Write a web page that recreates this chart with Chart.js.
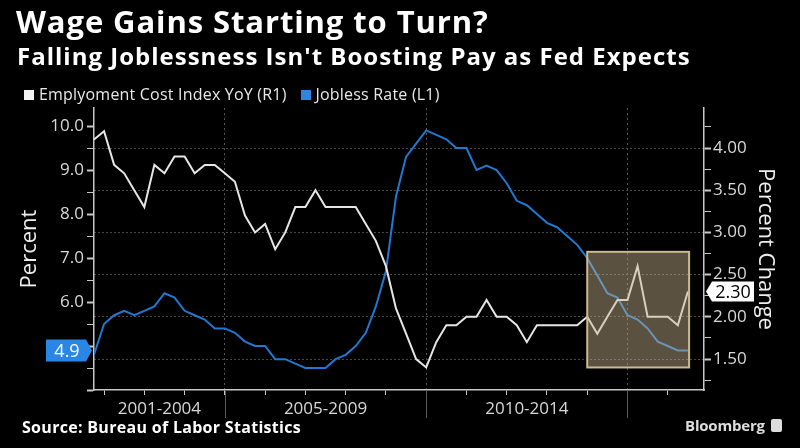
<!DOCTYPE html>
<html>
<head>
<meta charset="utf-8">
<script src="https://cdn.jsdelivr.net/npm/chart.js@4.4.1/dist/chart.umd.min.js"></script>
<style>
html,body{margin:0;padding:0;background:#000;}
#wrap{position:relative;width:800px;height:448px;background:#000;overflow:hidden;}
#c{position:absolute;left:0;top:0;}
.t{position:absolute;color:#fff;white-space:nowrap;}
#title{left:16px;top:0px;font:bold 31px "Open Sans",sans-serif;letter-spacing:0.9px;}
#subtitle{left:17px;top:39px;font:bold 24px "Open Sans",sans-serif;letter-spacing:1px;}
#legend{left:24px;top:83px;font:16px "Open Sans",sans-serif;color:#e8e8e8;letter-spacing:0.2px;}
#legend span.sw{display:inline-block;width:10px;height:10px;margin-right:5px;vertical-align:0px;}
#legend span.item{margin-right:14px;}
#source{left:22px;top:416px;font:bold 16px "Open Sans",sans-serif;letter-spacing:0.3px;}
#bbg{left:685px;top:415px;font:bold 15px "Open Sans",sans-serif;color:#ddd;letter-spacing:-0.2px;}
#bbg .ic{display:inline-block;width:11px;height:13px;background:#ddd;border-radius:2px;margin-left:6px;vertical-align:-1px;}
</style>
</head>
<body>
<div id="wrap">
<canvas id="c" width="800" height="448"></canvas>
<div class="t" id="title">Wage Gains Starting to Turn?</div>
<div class="t" id="subtitle">Falling Joblessness Isn't Boosting Pay as Fed Expects</div>
<div class="t" id="legend"><span class="item"><span class="sw" style="background:#f2f2f2"></span>Emplyoment Cost Index YoY (R1)</span><span class="item"><span class="sw" style="background:#2a86e4"></span>Jobless Rate (L1)</span></div>
<div class="t" id="source">Source: Bureau of Labor Statistics</div>
<div class="t" id="bbg">Bloomberg<span class="ic"></span></div>
</div>
<script>
// ---- data ----
const quarters = [
  "2001Q3","2001Q4",
  "2002Q1","2002Q2","2002Q3","2002Q4",
  "2003Q1","2003Q2","2003Q3","2003Q4",
  "2004Q1","2004Q2","2004Q3","2004Q4",
  "2005Q1","2005Q2","2005Q3","2005Q4",
  "2006Q1","2006Q2","2006Q3","2006Q4",
  "2007Q1","2007Q2","2007Q3","2007Q4",
  "2008Q1","2008Q2","2008Q3","2008Q4",
  "2009Q1","2009Q2","2009Q3","2009Q4",
  "2010Q1","2010Q2","2010Q3","2010Q4",
  "2011Q1","2011Q2","2011Q3","2011Q4",
  "2012Q1","2012Q2","2012Q3","2012Q4",
  "2013Q1","2013Q2","2013Q3","2013Q4",
  "2014Q1","2014Q2","2014Q3","2014Q4",
  "2015Q1","2015Q2","2015Q3","2015Q4",
  "2016Q1","2016Q2"
];
const joblessRate = [
  4.8,5.5,5.7,5.8,5.7,5.8,5.9,6.2,6.1,5.8,
  5.7,5.6,5.4,5.4,5.3,5.1,5.0,5.0,4.7,4.7,
  4.6,4.5,4.5,4.5,4.7,4.8,5.0,5.3,5.9,6.7,
  8.4,9.3,9.6,9.9,9.8,9.7,9.5,9.5,9.0,9.1,
  9.0,8.7,8.3,8.2,8.0,7.8,7.7,7.5,7.3,7.0,
  6.6,6.2,6.1,5.7,5.6,5.4,5.1,5.0,4.9,4.9
];
const eciYoY = [
  4.1,4.2,3.8,3.7,3.5,3.3,3.8,3.7,3.9,3.9,
  3.7,3.8,3.8,3.7,3.6,3.2,3.0,3.1,2.8,3.0,
  3.3,3.3,3.5,3.3,3.3,3.3,3.3,3.1,2.9,2.6,
  2.1,1.8,1.5,1.4,1.7,1.9,1.9,2.0,2.0,2.2,
  2.0,2.0,1.9,1.7,1.9,1.9,1.9,1.9,1.9,2.0,
  1.8,2.0,2.2,2.2,2.6,2.0,2.0,2.0,1.9,2.3
];
const leftTicks  = [4.0,4.5,5.0,5.5,6.0,6.5,7.0,7.5,8.0,8.5,9.0,9.5,10.0];
const leftLabels = [6.0,7.0,8.0,9.0,10.0];
const rightTicks = [1.25,1.50,1.75,2.00,2.25,2.50,2.75,3.00,3.25,3.50,3.75,4.00,4.25];
const rightLabels = [1.50,2.00,2.50,3.00,3.50,4.00];
const yearTicks = [2002,2003,2004,2005,2006,2007,2008,2009,2010,2011,2012,2013,2014,2015,2016];
const periodBreaks = [2005,2010,2015];
const periodLabels = ["2001-2004","2005-2009","2010-2014"];
const highlightX = [2014.0,2016.53];
const highlightY = [1.40,2.77];

// quarter label -> decimal year at quarter end
const qToYear = q => parseInt(q.slice(0,4),10) + parseInt(q.slice(5),10)/4;
const xs = quarters.map(qToYear);

const TICK_FONT = {family:'"Open Sans", sans-serif', size:17};
const AXIS_COL = '#c8c8c8';

const overlay = {
  id:'overlay',
  afterDatasetsDraw(chart){
    const {ctx, scales:{x, yR}} = chart;
    const x1 = x.getPixelForValue(highlightX[0]), x2 = x.getPixelForValue(highlightX[1]);
    const y1 = yR.getPixelForValue(highlightY[1]), y2 = yR.getPixelForValue(highlightY[0]);
    ctx.save();
    ctx.fillStyle = 'rgba(200,180,145,0.45)';
    ctx.fillRect(x1, y1, x2-x1, y2-y1);
    ctx.strokeStyle = '#cdb995';
    ctx.lineWidth = 2;
    ctx.strokeRect(x1, y1, x2-x1, y2-y1);
    ctx.restore();
  },
  afterDraw(chart){
    const {ctx, chartArea:a, scales:{x, yL, yR}} = chart;
    ctx.save();
    // period separators below axis
    ctx.strokeStyle = '#5a5a5a'; ctx.lineWidth = 1;
    periodBreaks.forEach(b=>{
      const px = Math.round(x.getPixelForValue(b))+0.5;
      ctx.beginPath(); ctx.moveTo(px, a.bottom); ctx.lineTo(px, a.bottom+28); ctx.stroke();
    });
    // period labels
    ctx.fillStyle = '#d8d8d8';
    ctx.font = '17px "Open Sans", sans-serif';
    ctx.textAlign = 'center'; ctx.textBaseline = 'middle';
    const bounds = [x.min].concat(periodBreaks);
    periodLabels.forEach((lab,i)=>{
      const p1 = x.getPixelForValue(bounds[i]), p2 = x.getPixelForValue(bounds[i+1]);
      ctx.fillText(lab, (p1+p2)/2, a.bottom+19);
    });
    // left last-value tag
    const lastJ = joblessRate[joblessRate.length-1];
    let ty = yL.getPixelForValue(lastJ);
    ctx.fillStyle = '#2a86e4';
    ctx.beginPath();
    ctx.moveTo(46, ty-11); ctx.lineTo(86, ty-11); ctx.lineTo(92, ty); ctx.lineTo(86, ty+11); ctx.lineTo(46, ty+11); ctx.closePath();
    ctx.fill();
    ctx.fillStyle = '#fff';
    ctx.font = '18px "Open Sans", sans-serif';
    ctx.fillText(lastJ.toFixed(1), 67, ty+1);
    // right last-value tag
    const lastE = eciYoY[eciYoY.length-1];
    ty = yR.getPixelForValue(lastE);
    ctx.fillStyle = '#ffffff';
    ctx.beginPath();
    ctx.moveTo(706, ty); ctx.lineTo(712, ty-10); ctx.lineTo(754, ty-10); ctx.lineTo(754, ty+10); ctx.lineTo(712, ty+10); ctx.closePath();
    ctx.fill();
    ctx.fillStyle = '#000';
    ctx.fillText(lastE.toFixed(2), 733, ty+1);
    ctx.restore();
  }
};

const near = (v, arr) => arr.some(a => Math.abs(a-v) < 1e-6);

new Chart(document.getElementById('c'), {
  type:'line',
  data:{
    datasets:[
      {label:'Emplyoment Cost Index YoY (R1)', data: xs.map((xv,i)=>({x:xv, y:eciYoY[i]})), yAxisID:'yR',
       borderColor:'#e6e6e6', borderWidth:2, pointRadius:0, tension:0},
      {label:'Jobless Rate (L1)', data: xs.map((xv,i)=>({x:xv, y:joblessRate[i]})), yAxisID:'yL',
       borderColor:'#1f78d2', borderWidth:2, pointRadius:0, tension:0}
    ]
  },
  options:{
    responsive:false, animation:false, devicePixelRatio:1,
    layout:{padding:{top:108,left:0,right:0,bottom:0}},
    plugins:{legend:{display:false}, tooltip:{enabled:false}, title:{display:false}},
    scales:{
      x:{
        type:'linear', min:2001.75, max:2016.9,
        afterBuildTicks:s=>{ s.ticks = yearTicks.map(v=>({value:v})); },
        afterFit:s=>{ s.height = 58; },
        ticks:{display:false},
        grid:{drawOnChartArea:true, drawTicks:true, tickLength:5,
          color: c => (c.tick && near(c.tick.value, periodBreaks)) ? '#555' : 'rgba(0,0,0,0)',
          tickColor:AXIS_COL, lineWidth:1},
        border:{display:true, color:AXIS_COL, width:1.5, dash:[2,3]}
      },
      yL:{
        type:'linear', position:'left', min:4.0, max:10.41,
        afterBuildTicks:s=>{ s.ticks = leftTicks.map(v=>({value:v})); },
        afterFit:s=>{ s.width = 94; },
        ticks:{autoSkip:false, includeBounds:false, color:'#d8d8d8', font:TICK_FONT, padding:3,
          callback:v => near(v, leftLabels) ? v.toFixed(1) : ''},
        grid:{drawOnChartArea:false, drawTicks:true, tickLength:7, tickColor:AXIS_COL,
          tickWidth: c => (c.tick && Number.isInteger(c.tick.value)) ? 2 : 1},
        border:{display:true, color:AXIS_COL, width:1.5},
        title:{display:true, text:'Percent', color:'#eeeeee', font:{family:'"Open Sans", sans-serif', size:22}, padding:{top:17,bottom:0}}
      },
      yR:{
        type:'linear', position:'right', min:1.133, max:4.474,
        afterBuildTicks:s=>{ s.ticks = rightTicks.map(v=>({value:v})); },
        afterFit:s=>{ s.width = 96; },
        ticks:{autoSkip:false, includeBounds:false, color:'#d8d8d8', font:TICK_FONT, padding:2,
          callback:v => near(v, rightLabels) ? v.toFixed(2) : ''},
        grid:{drawOnChartArea:true, drawTicks:true, tickLength:7, tickColor:AXIS_COL,
          color: c => (c.tick && near(c.tick.value, rightLabels)) ? '#4a4a4a' : 'rgba(0,0,0,0)',
          tickWidth: c => (c.tick && near(c.tick.value, rightLabels)) ? 2 : 1},
        border:{display:true, color:AXIS_COL, width:1.5, dash:[2,2]},
        title:{display:true, text:'Percent Change', color:'#eeeeee', font:{family:'"Open Sans", sans-serif', size:22}, padding:{top:22,bottom:0}}
      }
    }
  },
  plugins:[overlay]
});
</script>
</body>
</html>
